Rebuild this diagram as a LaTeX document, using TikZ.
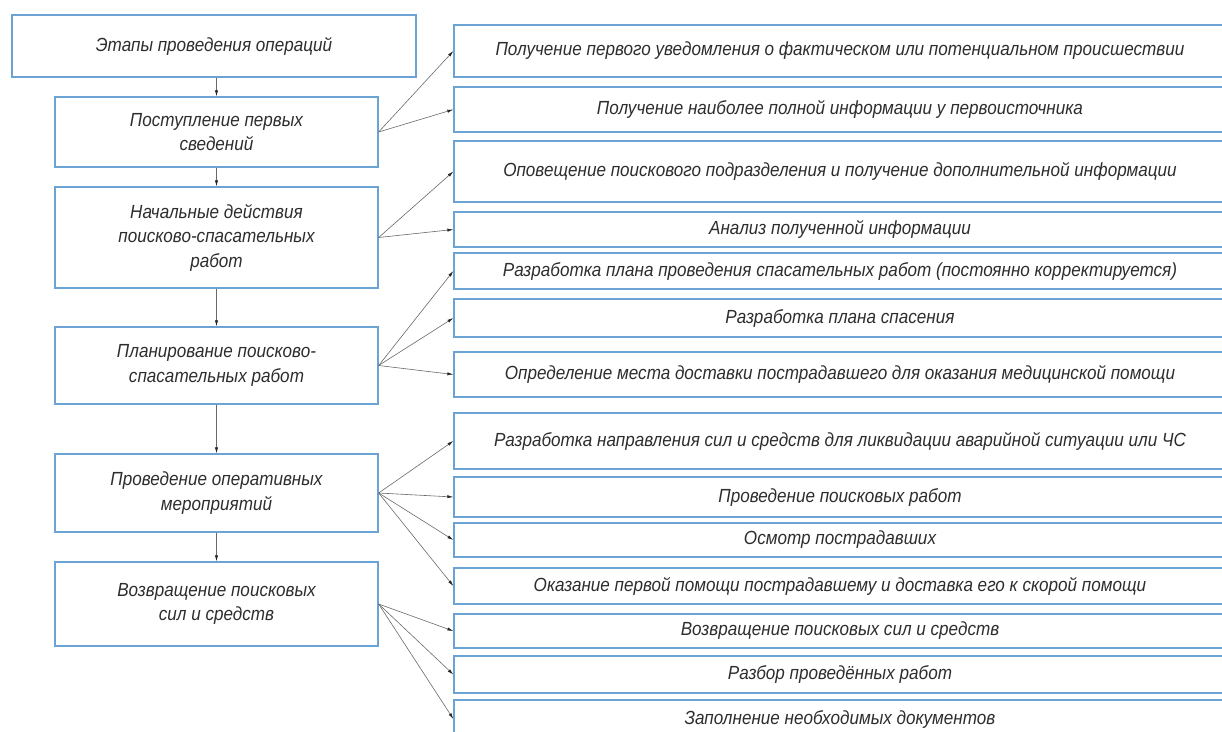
\documentclass[tikz,border=0pt]{standalone}
\usepackage{fontspec}
\setmainfont{Liberation Sans}[FakeStretch=0.9]
\usetikzlibrary{arrows.meta,positioning}
\definecolor{boxblue}{RGB}{106,163,212}
\definecolor{linkgray}{RGB}{105,105,105}
\definecolor{textgray}{RGB}{45,45,45}

\begin{document}
\begin{tikzpicture}[
            x=1pt, y=-1pt,
            every node/.style={font=\fontsize{19}{24.5}\selectfont\itshape, text=textgray},
            stage/.style={draw=boxblue, line width=1.3pt, rectangle, minimum width=323pt, align=center, inner sep=0pt},
            act/.style={draw=boxblue, line width=1.3pt, rectangle, minimum width=772pt, inner sep=0pt},
            link/.style={draw=linkgray, line width=0.6pt},
            >={Latex[length=6pt,width=3.2pt,color=black!85]}
        ]
        \useasboundingbox (0,0) rectangle (1222,731);

        % Draw stages %
        \node[stage, minimum width=404pt, minimum height=62pt] (stage0) at (214,46) {Этапы проведения операций};
        \node[stage, minimum height=70pt] (stage1) at (216.5,132) {Поступление первых\\сведений};
        \node[stage, minimum height=101pt] (stage2) at (216.5,237.5) {Начальные действия\\поисково-спасательных\\работ};
        \node[stage, minimum height=77pt] (stage3) at (216.5,365.5) {Планирование поисково-\\спасательных работ};
        \node[stage, minimum height=78pt] (stage4) at (216.5,493) {Проведение оперативных\\мероприятий};
        \node[stage, minimum height=84pt] (stage5) at (216.5,604) {Возвращение поисковых\\сил и средств};

        % Draw actions %
        \node[act, minimum height=52pt] (act1) at (840,51) {Получение первого уведомления о фактическом или потенциальном происшествии};
        \node[act, minimum height=45pt] (act2) at (840,109.5) {Получение наиболее полной информации у первоисточника};
        \node[act, minimum height=61pt] (act3) at (840,171.5) {Оповещение поискового подразделения и получение дополнительной информации};
        \node[act, minimum height=35pt] (act4) at (840,229.5) {Анализ полученной информации};
        \node[act, minimum height=36pt] (act5) at (840,271) {Разработка плана проведения спасательных работ (постоянно корректируется)};
        \node[act, minimum height=38pt] (act6) at (840,318) {Разработка плана спасения};
        \node[act, minimum height=45pt] (act7) at (840,374.5) {Определение места доставки пострадавшего для оказания медицинской помощи};
        \node[act, minimum height=56pt] (act8) at (840,441) {Разработка направления сил и средств для ликвидации аварийной ситуации или ЧС};
        \node[act, minimum height=40pt] (act9) at (840,497) {Проведение поисковых работ};
        \node[act, minimum height=34pt] (act10) at (840,540) {Осмотр пострадавших};
        \node[act, minimum height=36pt] (act11) at (840,586) {Оказание первой помощи пострадавшему и доставка его к скорой помощи};
        \node[act, minimum height=34pt] (act12) at (840,631) {Возвращение поисковых сил и средств};
        \node[act, minimum height=37pt] (act13) at (840,674.5) {Разбор проведённых работ};
        \node[act, minimum height=38pt] (act14) at (840,719) {Заполнение необходимых документов};

        % Draw arrows between stages %
        \draw[link,->] (stage0.south -| stage1.north) -- (stage1.north);
        \draw[link,->] (stage1) -- (stage2);
        \draw[link,->] (stage2) -- (stage3);
        \draw[link,->] (stage3) -- (stage4);
        \draw[link,->] (stage4) -- (stage5);

        % Draw arrows to actions %
        \draw[link,->] (stage1.east) -- (act1.west);
        \draw[link,->] (stage1.east) -- (act2.west);
        \draw[link,->] (stage2.east) -- (act3.west);
        \draw[link,->] (stage2.east) -- (act4.west);
        \draw[link,->] (stage3.east) -- (act5.west);
        \draw[link,->] (stage3.east) -- (act6.west);
        \draw[link,->] (stage3.east) -- (act7.west);
        \draw[link,->] (stage4.east) -- (act8.west);
        \draw[link,->] (stage4.east) -- (act9.west);
        \draw[link,->] (stage4.east) -- (act10.west);
        \draw[link,->] (stage4.east) -- (act11.west);
        \draw[link,->] (stage5.east) -- (act12.west);
        \draw[link,->] (stage5.east) -- (act13.west);
        \draw[link,->] (stage5.east) -- (act14.west);
\end{tikzpicture}
\end{document}
